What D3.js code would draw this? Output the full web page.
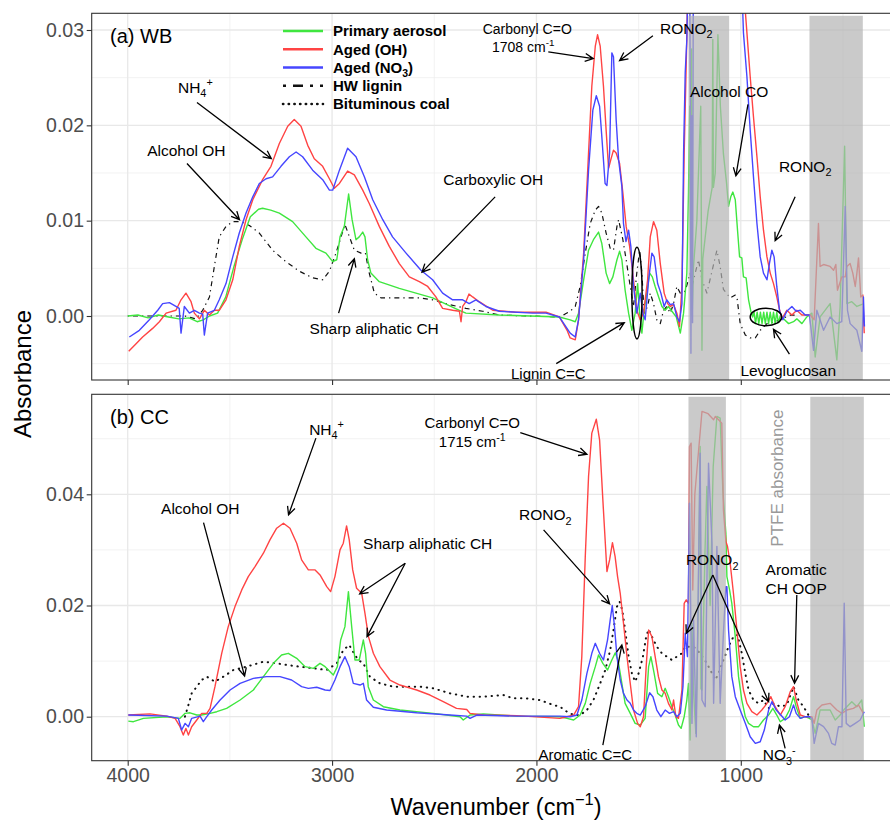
<!DOCTYPE html>
<html>
<head>
<meta charset="utf-8">
<script src="https://cdn.jsdelivr.net/npm/d3@7"></script>
<style>
  body { margin: 0; background: #fff; }
  text { font-family: "Liberation Sans", Arial, Helvetica, sans-serif; }
</style>
</head>
<body>
<svg id="chart"></svg>
<script>
// FTIR spectra, (a) wood burning and (b) coal combustion
// data: [wavenumber, absorbance]

const legendNames = ["Primary aerosol", "Aged (OH)", "Aged (NO_{3})", "HW lignin", "Bituminous coal"];

const xTicks = [4000, 3000, 2000, 1000];
const xMinor = [3500, 2500, 1500, 500];
const wbYTicks = [0, 0.01, 0.02, 0.03];
const wbYMinor = [-0.005, 0.005, 0.015, 0.025];
const ccYTicks = [0, 0.02, 0.04];
const ccYMinor = [0.01, 0.03, 0.05];

// PTFE filter bands (cm-1)
const wbBands = [[1256, 1057], [664, 403]];
const ccBands = [[1256, 1073], [660, 398]];

const wbPrimary = [[4000,0.0000],[3950,0.0001],[3900,-0.0002],[3850,0.0001],[3800,-0.0001],[3750,-0.0003],[3700,-0.0002],[3660,-0.0006],[3630,-0.0004],[3600,0.0000],[3560,0.0003],[3520,0.0020],[3480,0.0052],[3440,0.0080],[3400,0.0104],[3360,0.0112],[3340,0.0113],[3300,0.0111],[3258,0.0108],[3193,0.0099],[3128,0.0083],[3079,0.0071],[3030,0.0066],[2997,0.0057],[2977,0.0059],[2961,0.0083],[2940,0.0094],[2919,0.0128],[2902,0.0101],[2883,0.0080],[2867,0.0083],[2850,0.0088],[2839,0.0083],[2826,0.0059],[2810,0.0045],[2769,0.0036],[2671,0.0029],[2508,0.0019],[2377,0.0006],[2345,0.0003],[2182,0.0001],[1888,-0.0001],[1835,-0.0004],[1810,-0.0006],[1794,0.0003],[1769,0.0038],[1745,0.0069],[1721,0.0080],[1696,0.0088],[1680,0.0076],[1659,0.0045],[1642,0.0034],[1626,0.0041],[1606,0.0059],[1593,0.0068],[1582,0.0059],[1566,0.0027],[1549,0.0003],[1533,-0.0015],[1517,0.0003],[1505,0.0034],[1495,0.0003],[1484,-0.0018],[1473,0.0006],[1460,0.0024],[1446,0.0045],[1433,0.0041],[1419,0.0031],[1402,0.0020],[1386,0.0010],[1370,0.0006],[1354,0.0010],[1337,0.0005],[1316,-0.0001],[1296,-0.0018],[1280,0.0003],[1264,0.0045],[1256,0.0130],[1250,0.0220],[1246,0.0080],[1241,0.0280],[1238,0.0000],[1232,0.0050],[1215,0.0100],[1196,0.0220],[1190,-0.0036],[1186,0.0060],[1160,0.0110],[1140,0.0135],[1137,0.0290],[1134,0.0135],[1125,0.0150],[1112,0.0295],[1100,0.0220],[1085,0.0170],[1070,0.0140],[1060,0.0115],[1049,0.0125],[1039,0.0130],[1027,0.0122],[1016,0.0090],[1006,0.0062],[995,0.0061],[987,0.0041],[974,0.0040],[962,0.0017],[951,0.0005],[942,-0.0001],[935,0.0004],[928,-0.0008],[920,0.0004],[912,-0.0008],[904,0.0004],[896,-0.0008],[888,0.0004],[880,-0.0008],[872,0.0004],[864,-0.0008],[856,0.0004],[848,-0.0008],[840,0.0004],[832,-0.0008],[824,0.0004],[816,-0.0007],[807,0.0000],[791,-0.0003],[766,-0.0008],[742,-0.0006],[726,-0.0003],[701,-0.0008],[677,-0.0001],[664,0.0001],[652,0.0003],[636,-0.0043],[612,-0.0001],[563,0.0013],[530,-0.0046],[514,0.0010],[492,0.0178],[481,0.0013],[457,0.0015],[432,0.0010],[410,0.0012],[398,0.0013]];

const wbOH = [[3995,-0.0037],[3959,-0.0029],[3927,-0.0022],[3878,-0.0013],[3845,-0.0006],[3812,0.0003],[3764,0.0006],[3739,0.0017],[3715,0.0024],[3690,0.0015],[3674,0.0003],[3649,-0.0003],[3625,0.0006],[3600,0.0001],[3576,0.0006],[3552,0.0006],[3519,0.0017],[3486,0.0038],[3454,0.0073],[3421,0.0101],[3388,0.0122],[3340,0.0143],[3299,0.0157],[3258,0.0181],[3217,0.0199],[3185,0.0206],[3152,0.0199],[3119,0.0179],[3087,0.0165],[3046,0.0157],[3013,0.0144],[2989,0.0134],[2964,0.0139],[2924,0.0152],[2891,0.0148],[2850,0.0132],[2818,0.0118],[2769,0.0094],[2720,0.0073],[2671,0.0055],[2622,0.0041],[2573,0.0036],[2532,0.0031],[2492,0.0020],[2459,0.0008],[2410,0.0006],[2377,0.0005],[2369,-0.0006],[2361,0.0010],[2345,0.0015],[2330,0.0023],[2312,0.0020],[2280,0.0015],[2214,0.0006],[2100,0.0004],[1953,0.0004],[1888,-0.0001],[1850,-0.0015],[1835,-0.0023],[1810,-0.0025],[1794,-0.0004],[1769,0.0066],[1745,0.0171],[1729,0.0241],[1712,0.0283],[1701,0.0295],[1688,0.0283],[1672,0.0241],[1659,0.0195],[1647,0.0155],[1636,0.0164],[1623,0.0174],[1610,0.0171],[1593,0.0160],[1577,0.0129],[1561,0.0094],[1544,0.0073],[1525,0.0038],[1509,0.0006],[1492,-0.0004],[1476,0.0003],[1456,0.0038],[1443,0.0083],[1427,0.0099],[1411,0.0090],[1394,0.0055],[1375,0.0024],[1358,0.0013],[1345,0.0010],[1329,0.0012],[1313,0.0003],[1300,-0.0011],[1288,0.0031],[1277,0.0171],[1264,0.0293],[1256,0.0400],[1200,0.0500],[1100,0.0550],[1050,0.0500],[1000,0.0400],[985,0.0340],[970,0.0297],[954,0.0251],[938,0.0209],[921,0.0167],[905,0.0125],[889,0.0090],[872,0.0062],[856,0.0045],[840,0.0034],[824,0.0020],[810,0.0006],[799,-0.0003],[775,0.0006],[750,0.0001],[726,0.0006],[701,0.0001],[677,0.0001],[660,0.0001],[641,-0.0004],[620,0.0097],[612,0.0052],[595,0.0054],[563,0.0052],[546,0.0048],[535,0.0054],[527,0.0027],[506,0.0041],[489,0.0041],[481,0.0052],[465,0.0055],[452,0.0045],[440,0.0031],[432,0.0045],[424,0.0061],[413,0.0020],[403,0.0022],[396,-0.0018]];

const wbNO3 = [[3992,-0.0022],[3943,-0.0015],[3894,-0.0004],[3853,0.0006],[3829,0.0013],[3796,0.0014],[3764,0.0010],[3748,0.0008],[3739,-0.0018],[3723,0.0010],[3698,0.0003],[3674,0.0006],[3649,0.0003],[3633,0.0002],[3625,-0.0020],[3609,0.0003],[3576,0.0006],[3552,0.0017],[3519,0.0034],[3486,0.0062],[3454,0.0087],[3421,0.0108],[3388,0.0125],[3356,0.0139],[3323,0.0144],[3291,0.0146],[3250,0.0157],[3209,0.0167],[3176,0.0172],[3144,0.0167],[3095,0.0153],[3046,0.0143],[3013,0.0132],[2997,0.0132],[2964,0.0153],[2924,0.0176],[2883,0.0167],[2842,0.0146],[2801,0.0122],[2752,0.0101],[2704,0.0083],[2638,0.0066],[2565,0.0048],[2508,0.0038],[2459,0.0024],[2410,0.0017],[2361,0.0017],[2329,0.0013],[2296,0.0017],[2247,0.0010],[2182,0.0005],[2019,0.0003],[1953,0.0003],[1888,-0.0001],[1835,-0.0018],[1810,-0.0022],[1794,-0.0004],[1769,0.0059],[1745,0.0153],[1724,0.0216],[1707,0.0231],[1691,0.0220],[1680,0.0188],[1664,0.0139],[1655,0.0137],[1642,0.0171],[1631,0.0276],[1623,0.0272],[1610,0.0206],[1598,0.0164],[1582,0.0136],[1574,0.0097],[1562,0.0078],[1549,0.0090],[1538,0.0073],[1525,0.0031],[1509,0.0003],[1492,0.0024],[1479,0.0003],[1468,-0.0004],[1451,0.0038],[1435,0.0066],[1424,0.0062],[1407,0.0034],[1391,0.0024],[1375,0.0010],[1362,0.0017],[1345,0.0012],[1329,0.0013],[1313,-0.0001],[1300,-0.0006],[1288,0.0013],[1280,0.0171],[1272,0.0255],[1264,0.0290],[1256,0.0380],[1251,0.0400],[1247,0.0230],[1244,-0.0039],[1240,0.0210],[1236,-0.0007],[1232,0.0400],[1150,0.0550],[1050,0.0500],[1000,0.0380],[987,0.0297],[970,0.0251],[954,0.0195],[938,0.0146],[921,0.0097],[905,0.0062],[889,0.0045],[872,0.0038],[860,0.0055],[848,0.0069],[837,0.0062],[824,0.0031],[810,0.0005],[794,-0.0004],[775,0.0005],[750,0.0010],[729,0.0005],[709,0.0006],[685,0.0001],[664,0.0001],[644,-0.0036],[628,0.0006],[595,-0.0015],[563,-0.0001],[530,-0.0008],[506,-0.0006],[489,0.0115],[478,0.0006],[465,-0.0008],[432,-0.0015],[408,-0.0037],[400,0.0020],[395,-0.0011]];

const wbLignin = [[4000,0.0000],[3900,0.0000],[3800,0.0000],[3720,0.0000],[3666,-0.0003],[3633,0.0006],[3600,0.0020],[3576,0.0052],[3552,0.0083],[3519,0.0094],[3486,0.0099],[3446,0.0099],[3405,0.0095],[3356,0.0087],[3291,0.0069],[3226,0.0057],[3160,0.0047],[3095,0.0040],[3046,0.0038],[3013,0.0047],[2981,0.0066],[2956,0.0083],[2937,0.0096],[2915,0.0083],[2891,0.0069],[2858,0.0066],[2837,0.0066],[2818,0.0045],[2793,0.0024],[2761,0.0019],[2671,0.0019],[2573,0.0019],[2508,0.0017],[2426,0.0012],[2345,0.0008],[2263,0.0005],[2182,0.0001],[1888,-0.0001],[1860,0.0002],[1835,0.0005],[1810,0.0010],[1786,0.0031],[1761,0.0066],[1737,0.0097],[1712,0.0111],[1696,0.0115],[1680,0.0108],[1659,0.0087],[1639,0.0071],[1623,0.0069],[1606,0.0094],[1598,0.0101],[1577,0.0080],[1561,0.0059],[1541,0.0031],[1525,0.0010],[1509,0.0045],[1495,0.0069],[1484,0.0045],[1473,0.0003],[1456,0.0010],[1443,0.0024],[1427,0.0013],[1411,-0.0004],[1394,-0.0008],[1378,0.0006],[1362,0.0010],[1345,0.0003],[1329,0.0013],[1313,0.0031],[1296,0.0024],[1272,0.0026],[1248,0.0045],[1239,0.0031],[1207,0.0059],[1190,0.0038],[1166,0.0024],[1117,0.0069],[1101,0.0052],[1085,0.0028],[1052,0.0019],[1027,0.0022],[1019,0.0020],[1003,-0.0008],[978,-0.0020],[954,-0.0023],[929,-0.0023],[905,-0.0015],[872,-0.0008],[832,-0.0006],[799,-0.0003],[758,0.0001],[726,0.0001]];

const ccPrimary = [[3997,-0.0008],[3972,-0.0009],[3923,-0.0003],[3809,0.0000],[3744,-0.0003],[3719,0.0006],[3695,0.0007],[3662,0.0003],[3638,0.0003],[3597,0.0006],[3564,0.0009],[3516,0.0015],[3450,0.0030],[3385,0.0048],[3336,0.0072],[3287,0.0096],[3247,0.0111],[3214,0.0114],[3173,0.0105],[3132,0.0090],[3091,0.0087],[3059,0.0096],[3034,0.0090],[2994,0.0075],[2974,0.0090],[2958,0.0138],[2937,0.0162],[2920,0.0225],[2904,0.0162],[2888,0.0102],[2867,0.0102],[2847,0.0138],[2836,0.0114],[2823,0.0054],[2798,0.0030],[2749,0.0018],[2668,0.0012],[2505,0.0006],[2374,0.0000],[2358,-0.0006],[2325,0.0003],[2260,0.0005],[2097,0.0001],[1885,0.0000],[1850,-0.0003],[1818,-0.0006],[1786,0.0003],[1761,0.0024],[1737,0.0060],[1712,0.0090],[1696,0.0111],[1675,0.0096],[1652,0.0084],[1631,0.0102],[1614,0.0115],[1600,0.0100],[1590,0.0078],[1566,0.0024],[1541,0.0006],[1517,-0.0012],[1492,-0.0015],[1468,-0.0003],[1451,0.0090],[1440,0.0108],[1424,0.0078],[1407,0.0042],[1386,0.0036],[1370,0.0051],[1354,0.0036],[1337,0.0018],[1321,0.0003],[1305,-0.0015],[1292,-0.0021],[1277,0.0000],[1264,0.0030],[1256,0.0060],[1248,-0.0042],[1239,0.0168],[1232,0.0050],[1220,-0.0030],[1210,0.0150],[1199,0.0486],[1195,0.0050],[1190,0.0048],[1175,0.0300],[1166,0.0414],[1150,0.0200],[1135,0.0450],[1117,0.0540],[1101,0.0537],[1088,0.0408],[1073,0.0330],[1068,0.0252],[1055,0.0228],[1044,0.0204],[1027,0.0144],[1011,0.0072],[995,0.0030],[978,0.0000],[962,-0.0012],[938,-0.0018],[913,-0.0018],[889,-0.0006],[864,0.0003],[843,0.0015],[824,0.0003],[807,-0.0009],[783,-0.0003],[762,0.0012],[742,0.0036],[729,0.0018],[709,-0.0003],[685,0.0000],[664,-0.0003],[652,-0.0006],[636,-0.0030],[612,0.0012],[563,0.0012],[538,-0.0006],[514,0.0003],[497,0.0012],[481,0.0018],[457,0.0027],[432,0.0018],[408,0.0030],[396,-0.0018]];

const ccOH = [[3997,0.0003],[3891,0.0005],[3809,0.0001],[3768,-0.0003],[3744,-0.0018],[3728,-0.0033],[3715,-0.0021],[3703,-0.0033],[3687,-0.0018],[3662,-0.0006],[3638,0.0006],[3613,0.0006],[3597,0.0015],[3573,0.0054],[3540,0.0114],[3508,0.0162],[3475,0.0198],[3442,0.0228],[3410,0.0252],[3377,0.0270],[3336,0.0294],[3304,0.0318],[3271,0.0339],[3238,0.0348],[3206,0.0339],[3173,0.0312],[3149,0.0282],[3116,0.0264],[3083,0.0264],[3059,0.0255],[3026,0.0234],[3007,0.0225],[2986,0.0252],[2961,0.0300],[2945,0.0312],[2929,0.0343],[2916,0.0318],[2899,0.0264],[2880,0.0231],[2855,0.0222],[2839,0.0186],[2822,0.0144],[2798,0.0114],[2766,0.0090],[2717,0.0066],[2668,0.0057],[2586,0.0048],[2521,0.0039],[2456,0.0027],[2391,0.0015],[2341,0.0013],[2325,0.0006],[2260,0.0003],[2097,0.0002],[1885,-0.0003],[1850,0.0000],[1818,0.0003],[1794,0.0018],[1778,0.0108],[1761,0.0288],[1745,0.0432],[1729,0.0510],[1707,0.0535],[1691,0.0498],[1675,0.0390],[1655,0.0261],[1642,0.0282],[1628,0.0313],[1615,0.0288],[1603,0.0252],[1590,0.0222],[1574,0.0168],[1557,0.0108],[1541,0.0060],[1525,0.0012],[1505,-0.0012],[1492,-0.0018],[1476,0.0000],[1463,0.0090],[1451,0.0156],[1435,0.0144],[1419,0.0108],[1403,0.0072],[1386,0.0048],[1370,0.0042],[1354,0.0024],[1337,0.0012],[1329,0.0030],[1318,0.0000],[1305,-0.0003],[1288,0.0048],[1277,0.0204],[1267,0.0210],[1256,0.0204],[1251,0.0486],[1243,0.0492],[1235,0.0228],[1225,0.0400],[1190,0.0549],[1160,0.0545],[1133,0.0534],[1125,0.0540],[1109,0.0534],[1093,0.0528],[1085,0.0372],[1073,0.0315],[1065,0.0306],[1052,0.0276],[1036,0.0222],[1019,0.0156],[1003,0.0090],[987,0.0048],[970,0.0024],[946,0.0009],[921,0.0003],[897,0.0012],[872,0.0024],[853,0.0036],[832,0.0018],[807,0.0003],[783,0.0018],[758,0.0045],[742,0.0054],[729,0.0030],[709,0.0003],[685,0.0000],[664,0.0000],[652,0.0000],[641,-0.0012],[628,0.0012],[603,0.0021],[563,0.0024],[530,0.0012],[505,0.0006],[481,0.0012],[449,0.0015],[424,0.0021],[400,0.0006]];

const ccNO3 = [[3997,0.0003],[3809,0.0001],[3752,-0.0003],[3736,-0.0024],[3719,-0.0012],[3703,-0.0018],[3687,-0.0003],[3646,0.0001],[3630,-0.0009],[3613,0.0000],[3589,0.0012],[3548,0.0030],[3499,0.0048],[3450,0.0060],[3385,0.0069],[3320,0.0072],[3255,0.0072],[3198,0.0066],[3149,0.0054],[3116,0.0051],[3075,0.0053],[3034,0.0048],[3010,0.0047],[2986,0.0066],[2961,0.0090],[2937,0.0108],[2916,0.0090],[2896,0.0060],[2863,0.0057],[2847,0.0060],[2831,0.0030],[2798,0.0017],[2733,0.0012],[2586,0.0007],[2423,0.0003],[2341,0.0001],[2325,-0.0003],[2292,0.0003],[2097,0.0001],[1885,0.0001],[1835,0.0000],[1802,0.0003],[1778,0.0030],[1753,0.0078],[1729,0.0114],[1712,0.0132],[1691,0.0114],[1672,0.0102],[1652,0.0138],[1639,0.0174],[1629,0.0200],[1618,0.0162],[1606,0.0108],[1590,0.0066],[1574,0.0042],[1557,0.0030],[1541,0.0024],[1525,0.0012],[1509,0.0006],[1492,0.0003],[1468,0.0018],[1446,0.0043],[1430,0.0036],[1411,0.0012],[1391,0.0000],[1370,0.0012],[1349,0.0006],[1329,0.0009],[1313,0.0000],[1296,0.0006],[1283,0.0054],[1272,0.0150],[1261,0.0108],[1251,0.0384],[1239,-0.0012],[1231,0.0174],[1218,-0.0036],[1199,0.0474],[1190,0.0030],[1174,0.0018],[1158,0.0456],[1141,0.0312],[1133,0.0024],[1117,0.0306],[1101,0.0024],[1085,0.0150],[1073,0.0234],[1068,0.0234],[1060,0.0156],[1044,0.0072],[1027,0.0036],[1003,0.0012],[978,-0.0012],[954,-0.0036],[929,-0.0048],[905,-0.0045],[885,-0.0024],[864,0.0012],[848,0.0027],[827,0.0012],[804,0.0003],[783,-0.0006],[762,0.0000],[742,0.0021],[729,0.0006],[709,-0.0003],[685,0.0000],[664,0.0000],[652,-0.0003],[641,-0.0048],[620,-0.0012],[595,-0.0018],[571,-0.0030],[555,-0.0048],[538,-0.0051],[522,-0.0018],[505,-0.0018],[494,0.0204],[484,-0.0012],[465,-0.0018],[440,-0.0012],[416,-0.0006],[396,0.0009]];

const ccCoal = [[3720,0.0000],[3703,0.0021],[3687,0.0042],[3662,0.0054],[3638,0.0066],[3613,0.0072],[3573,0.0063],[3532,0.0072],[3483,0.0084],[3418,0.0090],[3336,0.0099],[3271,0.0096],[3222,0.0093],[3157,0.0090],[3091,0.0087],[3026,0.0084],[2977,0.0096],[2945,0.0120],[2916,0.0129],[2893,0.0114],[2872,0.0102],[2847,0.0096],[2815,0.0072],[2766,0.0060],[2700,0.0054],[2635,0.0054],[2570,0.0054],[2505,0.0051],[2423,0.0042],[2341,0.0036],[2260,0.0036],[2162,0.0039],[2113,0.0033],[2048,0.0033],[1983,0.0030],[1918,0.0021],[1885,0.0018],[1851,0.0009],[1818,0.0003],[1786,0.0003],[1753,0.0012],[1721,0.0030],[1688,0.0060],[1663,0.0084],[1639,0.0120],[1623,0.0156],[1606,0.0198],[1593,0.0207],[1580,0.0192],[1566,0.0156],[1549,0.0108],[1533,0.0078],[1517,0.0063],[1500,0.0078],[1479,0.0108],[1463,0.0144],[1451,0.0157],[1435,0.0144],[1411,0.0126],[1386,0.0114],[1362,0.0108],[1337,0.0102],[1313,0.0108],[1288,0.0114],[1272,0.0126],[1256,0.0126],[1231,0.0126],[1199,0.0114],[1166,0.0096],[1141,0.0078],[1125,0.0066],[1109,0.0078],[1085,0.0102],[1060,0.0126],[1036,0.0144],[1016,0.0147],[995,0.0114],[978,0.0078],[962,0.0048],[938,0.0030],[913,0.0024],[889,0.0030],[864,0.0015],[840,0.0024],[807,0.0018],[775,0.0021],[742,0.0054],[718,0.0030],[693,0.0018],[669,0.0003]];

// annotations, in data units: [text, wavenumber, absorbance, font px]
const wbLabels = [
  ["NH_{4}^{+}", 3669, 0.0240, 15.5],
  ["Alcohol OH", 3713, 0.0174, 15.5],
  ["Carboxylic OH", 2211, 0.0143, 15.5],
  ["Sharp aliphatic CH", 2794, -0.0013, 15.5],
  ["Carbonyl C=O", 2045, 0.0301, 14],
  ["1708 cm^{-1}", 2065, 0.0282, 14],
  ["RONO_{2}", 1267, 0.0302, 15.5],
  ["Alcohol CO", 1057, 0.0235, 15.5],
  ["RONO_{2}", 685, 0.0157, 15.5],
  ["Levoglucosan", 768, -0.0057, 15.5],
  ["Lignin C=C", 1942, -0.0061, 15]
];
// [from wn, from abs, to wn, to abs]
const wbArrows = [
  [3661, 0.0224, 3297, 0.0165],
  [3710, 0.0160, 3453, 0.0101],
  [2202, 0.0125, 2560, 0.0046],
  [2968, 0.0003, 2891, 0.0060],
  [1942, 0.0277, 1722, 0.0270],
  [1430, 0.0294, 1593, 0.0268],
  [965, 0.0222, 1024, 0.0147],
  [734, 0.0125, 832, 0.0079],
  [762, -0.0040, 840, -0.0014],
  [1903, -0.0050, 1570, -0.0007]
];
// [centre wn, centre abs, half width cm-1, half height abs]
const wbRings = [[877, -0.0001, 77, 0.00092], [1508, 0.0024, 25, 0.0048]];

const ccLabels = [
  ["NH_{4}^{+}", 3027, 0.0517, 15.5],
  ["Alcohol OH", 3645, 0.0375, 15.5],
  ["Sharp aliphatic CH", 2532, 0.0311, 15.5],
  ["Carbonyl C=O", 2314, 0.0528, 15],
  ["1715 cm^{-1}", 2314, 0.0494, 15],
  ["RONO_{2}", 1957, 0.0363, 15.5],
  ["Aromatic C=C", 1761, -0.0069, 15],
  ["RONO_{2}", 1140, 0.0282, 15.5],
  ["Aromatic", 729, 0.0264, 15.5],
  ["CH OOP", 729, 0.0231, 15.5],
  ["NO_{3}^{-}", 812, -0.0069, 15.5]
];
const ccArrows = [
  [3079, 0.0501, 3213, 0.0363],
  [3629, 0.0349, 3428, 0.0073],
  [2642, 0.0276, 2865, 0.0221],
  [2642, 0.0276, 2829, 0.0144],
  [2079, 0.0511, 1753, 0.0472],
  [1965, 0.0336, 1642, 0.0203],
  [1675, -0.0051, 1582, 0.0129],
  [1137, 0.0255, 1267, 0.0150],
  [1137, 0.0255, 864, 0.0027],
  [726, 0.0219, 737, 0.0060],
  [783, -0.0057, 811, -0.0015]
];
const ccRings = [];

// ---- layout ----
const W = 890, H = 821;
const plotLeft = 91.7, plotRight = 893;

const x = d3.scaleLinear().domain([4000, 1000]).range([127.7, 740.8]);

const styles = {
  primary: { color: "#3fe63f", dash: null, width: 1.4 },
  oh: { color: "#ff4444", dash: null, width: 1.4 },
  no3: { color: "#4646ff", dash: null, width: 1.4 },
  lignin: { color: "#111", dash: "1.3,4,5,4", width: 1.2 },
  coal: { color: "#111", dash: "0.4,5.6", width: 2 }
};
const legendKeys = ["primary", "oh", "no3", "lignin", "coal"];

const panels = [
  { name: "wb", tag: "(a) WB", top: 13.3, bottom: 380,
    y: d3.scaleLinear().domain([0, 0.03]).range([316, 30]),
    yTicks: wbYTicks, yMinor: wbYMinor, bands: wbBands,
    series: [["lignin", wbLignin], ["primary", wbPrimary], ["oh", wbOH], ["no3", wbNO3]],
    labels: wbLabels, arrows: wbArrows, rings: wbRings, xLabels: false },
  { name: "cc", tag: "(b) CC", top: 394.3, bottom: 760.7,
    y: d3.scaleLinear().domain([0, 0.04]).range([716.7, 494.3]),
    yTicks: ccYTicks, yMinor: ccYMinor, bands: ccBands,
    series: [["coal", ccCoal], ["primary", ccPrimary], ["oh", ccOH], ["no3", ccNO3]],
    labels: ccLabels, arrows: ccArrows, rings: ccRings, xLabels: true }
];

const svg = d3.select("#chart").attr("width", W).attr("height", H);
svg.append("rect").attr("width", W).attr("height", H).attr("fill", "#fff");

// text with _{sub} and ^{sup} pieces
function richText(sel, str, size) {
  const parts = str.split(/(_\{[^}]*\}|\^\{[^}]*\})/).filter(s => s.length);
  let shift = 0;
  parts.forEach(p => {
    let target = 0, fs = size, t = p;
    if (p.startsWith("_{")) { target = size * 0.3; fs = size * 0.7; t = p.slice(2, -1); }
    else if (p.startsWith("^{")) { target = -size * 0.42; fs = size * 0.7; t = p.slice(2, -1); }
    sel.append("tspan").attr("dy", target - shift).style("font-size", fs + "px").text(t);
    shift = target;
  });
}

function arrow(g, x1, y1, x2, y2) {
  const a = Math.atan2(y2 - y1, x2 - x1), len = 9, spread = 0.45;
  const p1 = [x2 - len * Math.cos(a - spread), y2 - len * Math.sin(a - spread)];
  const p2 = [x2 - len * Math.cos(a + spread), y2 - len * Math.sin(a + spread)];
  g.append("path")
    .attr("d", `M${x1},${y1}L${x2},${y2}M${p1}L${x2},${y2}L${p2}`)
    .attr("fill", "none").attr("stroke", "#000").attr("stroke-width", 1.3);
}

panels.forEach(p => {
  const g = svg.append("g").attr("class", "panel-" + p.name);
  const clipId = "clip-" + p.name;
  svg.append("clipPath").attr("id", clipId).append("rect")
    .attr("x", plotLeft).attr("y", p.top)
    .attr("width", plotRight - plotLeft).attr("height", p.bottom - p.top);

  // grid
  const grid = g.append("g").attr("clip-path", `url(#${clipId})`);
  p.yMinor.forEach(v => grid.append("line").attr("x1", plotLeft).attr("x2", plotRight)
    .attr("y1", p.y(v)).attr("y2", p.y(v)).attr("stroke", "#ececec").attr("stroke-width", 0.7));
  xMinor.forEach(v => grid.append("line").attr("y1", p.top).attr("y2", p.bottom)
    .attr("x1", x(v)).attr("x2", x(v)).attr("stroke", "#ececec").attr("stroke-width", 0.7));
  p.yTicks.forEach(v => grid.append("line").attr("x1", plotLeft).attr("x2", plotRight)
    .attr("y1", p.y(v)).attr("y2", p.y(v)).attr("stroke", "#e8e8e8").attr("stroke-width", 1.3));
  xTicks.forEach(v => grid.append("line").attr("y1", p.top).attr("y2", p.bottom)
    .attr("x1", x(v)).attr("x2", x(v)).attr("stroke", "#e8e8e8").attr("stroke-width", 1.3));

  // spectra
  const plot = g.append("g").attr("clip-path", `url(#${clipId})`);
  const line = d3.line().x(d => x(d[0])).y(d => p.y(d[1]));
  p.series.forEach(([key, data]) => {
    const st = styles[key];
    plot.append("path").datum(data).attr("d", line)
      .attr("fill", "none").attr("stroke", st.color).attr("stroke-width", st.width)
      .attr("stroke-dasharray", st.dash).attr("stroke-linejoin", "round")
      .attr("stroke-linecap", key === "coal" ? "round" : "butt");
  });

  // PTFE bands on top of the lines (fades them)
  p.bands.forEach(b => plot.append("rect")
    .attr("x", x(b[0])).attr("width", x(b[1]) - x(b[0]))
    .attr("y", p.top + 2.5).attr("height", p.bottom - p.top)
    .attr("fill", "#b3b3b3").attr("opacity", 0.7));

  // border
  g.append("rect").attr("x", plotLeft).attr("y", p.top)
    .attr("width", plotRight - plotLeft).attr("height", p.bottom - p.top)
    .attr("fill", "none").attr("stroke", "#333").attr("stroke-width", 1.1);

  // axes
  const yAxis = g.append("g").attr("transform", `translate(${plotLeft},0)`)
    .call(d3.axisLeft(p.y).tickValues(p.yTicks).tickFormat(d3.format(".2f")).tickSize(5).tickPadding(2.7));
  const xAxis = g.append("g").attr("transform", `translate(0,${p.bottom})`)
    .call(d3.axisBottom(x).tickValues(xTicks).tickSize(5).tickPadding(2.5)
      .tickFormat(p.xLabels ? d3.format("d") : ""));
  [yAxis, xAxis].forEach(a => {
    a.select(".domain").remove();
    a.selectAll(".tick line").attr("stroke", "#333").attr("stroke-width", 1.1);
    a.selectAll(".tick text").attr("fill", "#4d4d4d").style("font-size", "19.5px");
  });

  // panel tag
  g.append("text").attr("x", 110).attr("y", p.top + 30).style("font-size", "20px").text(p.tag);

  // annotations
  const ann = g.append("g");
  p.labels.forEach(([t, wn, v, fs]) => {
    const el = ann.append("text").attr("x", x(wn)).attr("y", p.y(v))
      .attr("text-anchor", "middle").style("font-size", fs + "px");
    richText(el, t, fs);
    const first = el.select("tspan");
    first.attr("dy", +first.attr("dy") + 0.35 * fs);
  });
  p.arrows.forEach(([a, b, c, d]) => arrow(ann, x(a), p.y(b), x(c), p.y(d)));
  p.rings.forEach(([wn, v, rw, rv]) => ann.append("ellipse")
    .attr("cx", x(wn)).attr("cy", p.y(v))
    .attr("rx", Math.abs(x(wn + rw) - x(wn))).attr("ry", Math.abs(p.y(v + rv) - p.y(v)))
    .attr("fill", "none").attr("stroke", "#000").attr("stroke-width", 1.5));
});

// PTFE note
const cc = panels[1];
svg.append("text")
  .attr("transform", `translate(${x(822)},${cc.y(0.0429)}) rotate(-90)`)
  .attr("text-anchor", "middle").attr("dy", "0.35em")
  .attr("fill", "#999").style("font-size", "17px").text("PTFE absorbance");

// legend (top panel)
const legend = svg.append("g");
legendKeys.forEach((k, i) => {
  const yy = 31 + i * 18.25, st = styles[k];
  legend.append("line").attr("x1", 283).attr("x2", 323).attr("y1", yy).attr("y2", yy)
    .attr("stroke", st.color).attr("stroke-width", 2.6)
    .attr("stroke-linecap", k === "coal" ? "round" : "butt")
    .attr("stroke-dasharray", k === "lignin" ? "3,7,10,7" : k === "coal" ? "0.3,5.4" : null);
  const t = legend.append("text").attr("x", 333).attr("y", yy)
    .style("font-size", "15px").style("font-weight", "bold");
  richText(t, legendNames[i], 15);
  const first = t.select("tspan");
  first.attr("dy", +first.attr("dy") + 5.25);
});

// axis titles
svg.append("text").attr("transform", "translate(31,374) rotate(-90)")
  .attr("text-anchor", "middle").style("font-size", "24px").text("Absorbance");
const xt = svg.append("text").attr("x", 496).attr("y", 815)
  .attr("text-anchor", "middle").style("font-size", "23.5px");
richText(xt, "Wavenumber (cm^{\u22121})", 23.5);
</script>
</body>
</html>
